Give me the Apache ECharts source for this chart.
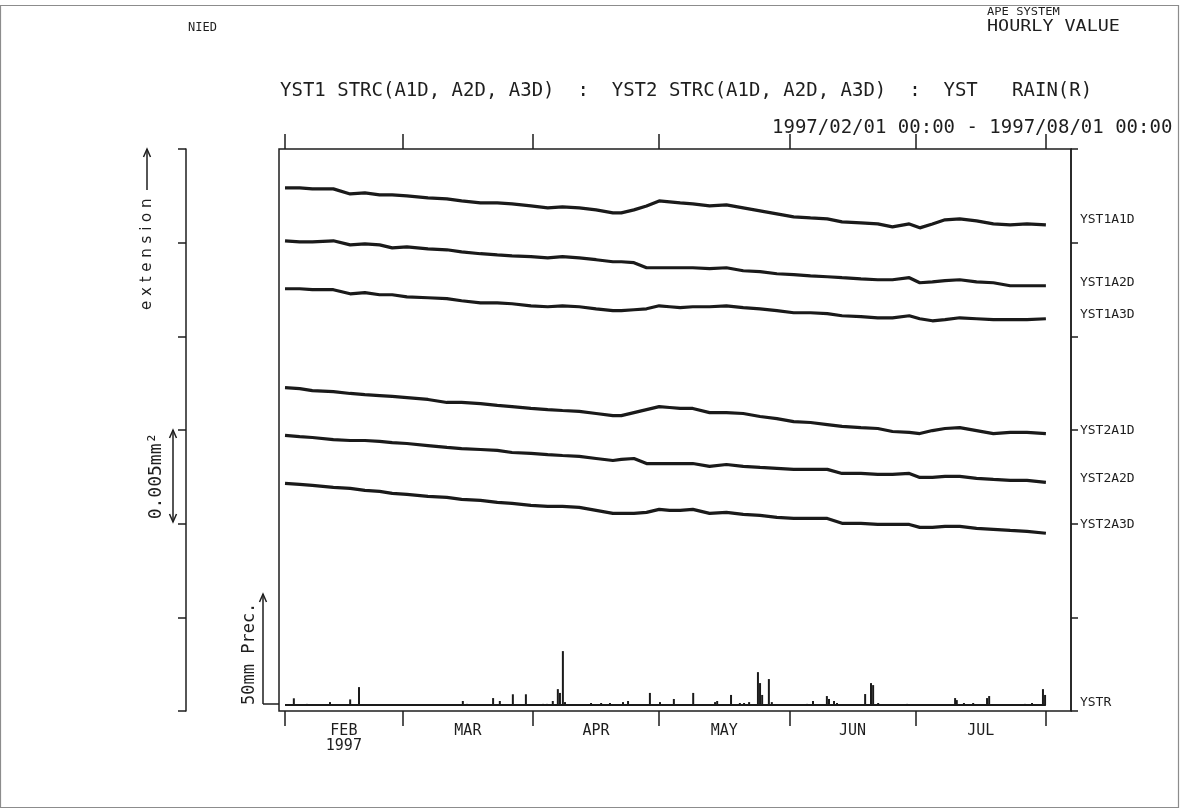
<!DOCTYPE html>
<html>
<head>
<meta charset="utf-8">
<title>YST1 / YST2 STRC + YST RAIN</title>
<script src="https://cdn.jsdelivr.net/npm/echarts@6/dist/echarts.min.js"></script>
<style>
  html, body { margin: 0; padding: 0; background: #fff; }
  #chart { width: 1183px; height: 812px; }
</style>
</head>
<body>
<div id="chart"></div>
<script>
// days since 1997/02/01 00:00
const days = [0, 3.5, 6.5, 11.5, 15.5, 19, 22.5, 25.5, 29, 34,
  38.5, 42, 46.5, 50.5, 54, 58.5, 62.5, 66, 70, 74,
  78, 80, 83, 86, 89, 91.5, 94, 97, 101, 105,
  109, 113, 117, 121, 125, 129, 132.5, 137, 141, 144.5,
  148.5, 151, 154, 157, 160.5, 164.5, 168.5, 172.5, 176.5, 181];

// extension, in 0.001 mm (one axis tick = 0.005 mm)
const yst1a1d = [27.92, 27.92, 27.87, 27.87, 27.60, 27.66, 27.55, 27.55, 27.50, 27.39,
  27.34, 27.23, 27.12, 27.12, 27.07, 26.96, 26.86, 26.91, 26.86, 26.75,
  26.59, 26.59, 26.75, 26.96, 27.23, 27.18, 27.12, 27.07, 26.96, 27.02,
  26.86, 26.70, 26.54, 26.38, 26.32, 26.27, 26.11, 26.06, 26.00, 25.84,
  26.00, 25.79, 26.00, 26.22, 26.27, 26.16, 26.00, 25.95, 26.00, 25.95];
const yst1a2d = [25.10, 25.04, 25.04, 25.10, 24.88, 24.94, 24.88, 24.72, 24.78, 24.67,
  24.62, 24.51, 24.41, 24.35, 24.30, 24.25, 24.19, 24.25, 24.19, 24.09,
  23.98, 23.98, 23.93, 23.66, 23.66, 23.66, 23.66, 23.66, 23.61, 23.66,
  23.50, 23.45, 23.34, 23.29, 23.23, 23.18, 23.13, 23.07, 23.02, 23.02,
  23.13, 22.86, 22.91, 22.97, 23.02, 22.91, 22.86, 22.70, 22.70, 22.70];
const yst1a3d = [22.54, 22.54, 22.49, 22.49, 22.27, 22.33, 22.22, 22.22, 22.11, 22.06,
  22.01, 21.90, 21.79, 21.79, 21.74, 21.63, 21.58, 21.63, 21.58, 21.47,
  21.37, 21.37, 21.42, 21.47, 21.63, 21.58, 21.53, 21.58, 21.58, 21.63,
  21.53, 21.47, 21.37, 21.26, 21.26, 21.21, 21.10, 21.05, 20.99, 20.99,
  21.10, 20.94, 20.83, 20.89, 20.99, 20.94, 20.89, 20.89, 20.89, 20.94];
const yst2a1d = [17.26, 17.21, 17.10, 17.05, 16.95, 16.89, 16.84, 16.79, 16.73, 16.63,
  16.47, 16.47, 16.41, 16.31, 16.25, 16.15, 16.09, 16.04, 15.99, 15.88,
  15.77, 15.77, 15.93, 16.09, 16.25, 16.20, 16.15, 16.15, 15.93, 15.93,
  15.88, 15.72, 15.61, 15.45, 15.40, 15.29, 15.19, 15.13, 15.08, 14.92,
  14.87, 14.81, 14.97, 15.08, 15.13, 14.97, 14.81, 14.87, 14.87, 14.81];
const yst2a2d = [14.71, 14.65, 14.60, 14.49, 14.44, 14.44, 14.39, 14.33, 14.28, 14.17,
  14.07, 14.01, 13.96, 13.91, 13.80, 13.75, 13.69, 13.64, 13.59, 13.48,
  13.37, 13.43, 13.48, 13.21, 13.21, 13.21, 13.21, 13.21, 13.06, 13.16,
  13.06, 13.00, 12.95, 12.90, 12.90, 12.90, 12.68, 12.68, 12.63, 12.63,
  12.68, 12.47, 12.47, 12.52, 12.52, 12.42, 12.36, 12.31, 12.31, 12.20];
const yst2a3d = [12.15, 12.10, 12.04, 11.94, 11.88, 11.78, 11.72, 11.62, 11.56, 11.46,
  11.40, 11.30, 11.24, 11.14, 11.08, 10.98, 10.92, 10.92, 10.87, 10.71,
  10.55, 10.55, 10.55, 10.60, 10.76, 10.71, 10.71, 10.76, 10.55, 10.60,
  10.50, 10.44, 10.34, 10.28, 10.28, 10.28, 10.02, 10.02, 9.96, 9.96,
  9.96, 9.80, 9.80, 9.86, 9.86, 9.75, 9.70, 9.64, 9.59, 9.49];

// rain (mm/h)
const rainDays = [2.1, 5.2, 10.7, 15.5, 17.6, 42.3, 43.3, 49.5, 51.1, 54.2,
  57.3, 61.4, 62.3, 63.7, 64.9, 65.4, 66.1, 66.6, 72.8, 75.2,
  77.3, 80.4, 81.6, 86.8, 89.2, 92.5, 97.1, 102.3, 102.8, 106.1,
  108.2, 109.2, 110.4, 112.5, 113.0, 113.5, 115.1, 115.8, 124.2, 125.6,
  128.9, 129.4, 130.6, 131.3, 138.0, 139.4, 139.9, 141.1, 148.0, 159.4,
  159.8, 161.5, 163.7, 167.0, 167.5, 176.0, 177.7, 180.3, 180.8];
const rainMm = [3.0, 0.5, 1.3, 2.5, 8.0, 1.8, 0.5, 3.1, 1.8, 4.8,
  4.8, 0.5, 0.5, 1.8, 7.1, 5.4, 24.1, 1.3, 0.9, 0.9,
  0.9, 1.3, 1.8, 5.4, 1.3, 2.7, 5.4, 1.3, 1.8, 4.5,
  0.9, 0.9, 1.3, 14.7, 9.8, 4.5, 11.6, 1.3, 0.5, 1.8,
  4.0, 2.7, 1.8, 0.9, 4.9, 9.8, 8.9, 0.9, 0.5, 3.1,
  2.2, 0.9, 0.9, 3.1, 4.0, 0.5, 0.9, 7.1, 4.5];

// month ticks / labels
const monthStarts = [0, 28, 59, 89, 120, 150, 181];
const monthMids = [14, 43.5, 74, 104.5, 135, 165.5];
const monthLabels = ['FEB\n1997', 'MAR', 'APR', 'MAY', 'JUN', 'JUL'];

const INK = '#1e1e1e';
const MONO = '"DejaVu Sans Mono", monospace';

const traces = [
  { name: 'YST1A1D', values: yst1a1d, dy: -5 },
  { name: 'YST1A2D', values: yst1a2d, dy: -3 },
  { name: 'YST1A3D', values: yst1a3d, dy: -4 },
  { name: 'YST2A1D', values: yst2a1d, dy: -3 },
  { name: 'YST2A2D', values: yst2a2d, dy: -4 },
  { name: 'YST2A3D', values: yst2a3d, dy: -9 }
];

function endLabel(dy) {
  return {
    show: true, formatter: '{a}', distance: 34, offset: [0, dy],
    fontFamily: MONO, fontSize: 13, color: INK
  };
}

const series = traces.map(t => ({
  name: t.name,
  type: 'line',
  xAxisIndex: 0,
  yAxisIndex: 0,
  symbol: 'none',
  data: days.map((d, i) => [d, t.values[i]]),
  lineStyle: { color: '#1a1a1a', width: 3.2 },
  endLabel: endLabel(t.dy)
}));

// rain bars
series.push({
  name: 'YSTR',
  type: 'bar',
  xAxisIndex: 0,
  yAxisIndex: 1,
  barWidth: 2,
  data: rainDays.map((d, i) => [d, rainMm[i]]),
  itemStyle: { color: '#1a1a1a' }
});
// rain zero line
series.push({
  name: 'YSTR',
  type: 'line',
  xAxisIndex: 0,
  yAxisIndex: 1,
  symbol: 'none',
  data: [[days[0], 0], [days[days.length - 1], 0]],
  lineStyle: { color: '#1a1a1a', width: 1.8 },
  endLabel: endLabel(-2)
});

function txt(x, y, text, font, extra) {
  return Object.assign({
    type: 'text', x: x, y: y, silent: true,
    style: { text: text, font: font, fill: INK, align: 'left', verticalAlign: 'middle' }
  }, extra || {});
}
function seg(x1, y1, x2, y2) {
  return { type: 'line', silent: true, shape: { x1, y1, x2, y2 }, style: { stroke: INK, lineWidth: 1.5 } };
}
function head(x, y, up) {
  const s = up ? 1 : -1;
  return { type: 'polyline', silent: true,
    shape: { points: [[x - 3.5, y + 8 * s], [x, y], [x + 3.5, y + 8 * s]] },
    style: { stroke: INK, lineWidth: 1.5, fill: null } };
}

const tickStyle = { color: INK, width: 1.5 };

const chart = echarts.init(document.getElementById('chart'));
chart.setOption({
  backgroundColor: '#fff',
  animation: false,
  grid: { left: 279, top: 149, right: 112, bottom: 101, show: true, borderColor: INK, borderWidth: 1.5 },
  xAxis: [
    {
      type: 'value', position: 'bottom', min: -1.43, max: 186.97,
      axisLine: { show: false, onZero: false }, splitLine: { show: false },
      axisTick: { show: true, inside: false, length: 15, customValues: monthStarts, lineStyle: tickStyle },
      axisLabel: {
        show: true, customValues: monthMids, margin: 13,
        formatter: v => monthLabels[monthMids.indexOf(v)],
        fontFamily: MONO, fontSize: 15, lineHeight: 15, color: INK
      }
    },
    {
      type: 'value', position: 'top', min: -1.43, max: 186.97,
      axisLine: { show: false, onZero: false }, splitLine: { show: false },
      axisTick: { show: true, inside: false, length: 15, customValues: monthStarts, lineStyle: tickStyle },
      axisLabel: { show: false }
    }
  ],
  yAxis: [
    {
      type: 'value', position: 'right', min: 0, max: 30, interval: 5,
      axisLine: { show: true, onZero: false, lineStyle: tickStyle },
      axisTick: { show: true, inside: false, length: 7, lineStyle: tickStyle },
      axisLabel: { show: false }, splitLine: { show: false }
    },
    { type: 'value', show: false, min: -2.68, max: 248.6, axisLine: { onZero: false } },
    {
      type: 'value', position: 'left', offset: 93, min: 0, max: 30, interval: 5,
      axisLine: { show: true, onZero: false, lineStyle: tickStyle },
      axisTick: { show: true, inside: false, length: 8, lineStyle: tickStyle },
      axisLabel: { show: false }, splitLine: { show: false }
    }
  ],
  graphic: [
    { type: 'rect', silent: true, z: -10, shape: { x: 0.5, y: 5.5, width: 1178, height: 802 },
      style: { fill: null, stroke: '#8c8c8c', lineWidth: 1.2 } },
    txt(188, 28, 'NIED', '12px ' + MONO),
    txt(987, 12, 'APE SYSTEM', '11px ' + MONO, { scaleX: 1.1 }),
    txt(987, 27, 'HOURLY VALUE', '16px ' + MONO, { scaleX: 1.15 }),
    txt(280, 91, 'YST1 STRC(A1D, A2D, A3D)  :  YST2 STRC(A1D, A2D, A3D)  :  YST   RAIN(R)', '19px ' + MONO),
    txt(772, 128, '1997/02/01 00:00 - 1997/08/01 00:00', '19px ' + MONO),
    // extension scale annotation
    txt(147, 310, 'e x t e n s i o n', '15px "DejaVu Sans", sans-serif', { rotation: Math.PI / 2 }),
    seg(147, 190, 147, 149), head(147, 149, true),
    txt(156, 476, '0.005mm\u00b2', '18px ' + MONO, { rotation: Math.PI / 2, style: { text: '0.005mm\u00b2', font: '18px ' + MONO, fill: INK, align: 'center', verticalAlign: 'middle' } }),
    seg(173, 430, 173, 522), head(173, 430, true), head(173, 522, false),
    // rain scale annotation
    txt(250, 705, '50mm Prec.', '17px ' + MONO, { rotation: Math.PI / 2 }),
    seg(263, 704, 263, 594), head(263, 594, true), seg(263, 704, 279, 704)
  ],
  series: series
});
</script>
</body>
</html>
